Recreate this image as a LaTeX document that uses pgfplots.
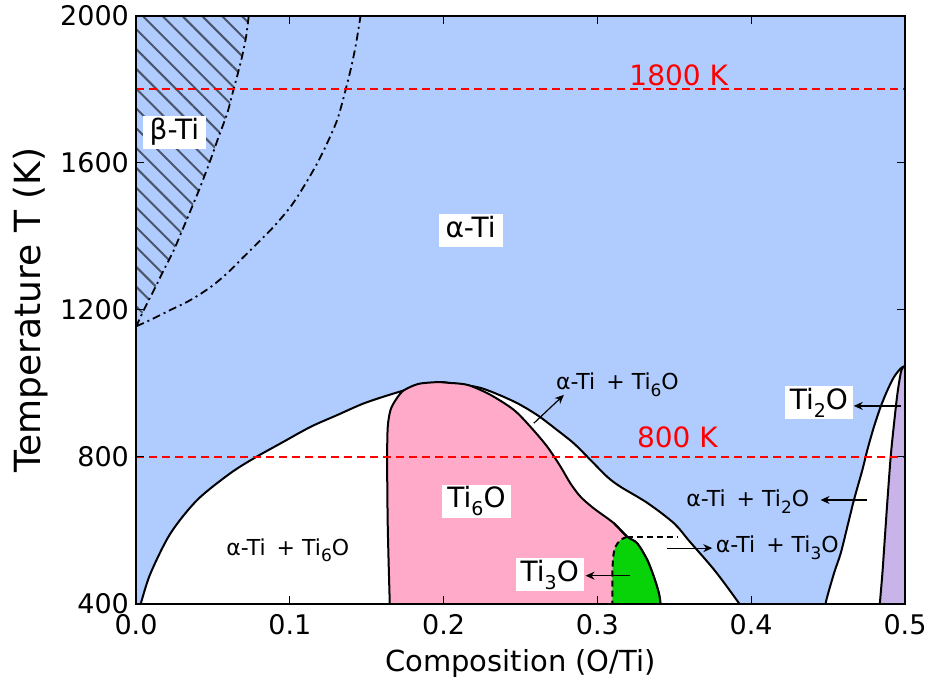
\documentclass[border=0pt]{standalone}
\usepackage{pgfplots}
\pgfplotsset{compat=1.18}
\usepackage{fontspec}
\setmainfont{DejaVu Sans}
\usetikzlibrary{patterns.meta,arrows.meta}
\definecolor{bgblue}{RGB}{176,204,255}
\definecolor{ppink}{RGB}{255,170,200}
\definecolor{pgreen}{RGB}{8,210,8}
\definecolor{ppurple}{RGB}{200,180,232}
\definecolor{hatchc}{RGB}{75,85,105}
\definecolor{lred}{RGB}{255,0,0}
\newcommand\sub[1]{\raisebox{-0.28em}{\fontsize{9.5}{10}\selectfont #1}}
\newcommand\subs[1]{\raisebox{-3.3pt}{\fontsize{8.5}{9}\selectfont #1}}
\newcommand\two[1]{α-Ti\hspace{2pt} + Ti\subs{#1}O}
\begin{document}
\begin{tikzpicture}[
  lab/.style={font=\fontsize{14}{16}\selectfont, inner sep=0pt},
  labs/.style={font=\fontsize{11}{13}\selectfont, inner sep=0pt},
  box/.style={lab, fill=white, text height=10.5pt, text depth=4pt, inner xsep=2.5pt, inner ysep=1pt},
  arr/.style={draw=black, line width=0.6pt, -{Stealth[length=4.5pt,width=4pt]}},
  bnd/.style={draw=black, line width=1pt},
]
\begin{axis}[
  scale only axis, width=384.5pt, height=294pt,
  xmin=0, xmax=0.5, ymin=400, ymax=2000,
  xtick={0,0.1,0.2,0.3,0.4,0.5}, ytick={400,800,1200,1600,2000},
  xticklabel style={/pgf/number format/fixed,/pgf/number format/fixed zerofill,/pgf/number format/precision=1, yshift=-1.5pt},
  yticklabel style={/pgf/number format/1000 sep={}},
  /pgf/number format/assume math mode=true,
  tick label style={font=\fontsize{13.5}{16}\selectfont},
  tick align=inside, major tick length=4pt, tick style={black, line width=0.5pt},
  axis line style={line width=1.2pt},
  axis on top,
  axis background/.style={fill=bgblue},
  xlabel={Composition (O/Ti)}, ylabel={Temperature T (K)},
  xlabel style={font=\fontsize{14.5}{17}\selectfont, at={(axis description cs:0.5,-0.1156)}, anchor=base},
  ylabel style={font=\fontsize{18}{21}\selectfont, at={(axis description cs:-0.1248,0.5)}, anchor=base},
]
% beta-Ti hatched region
\addplot[draw=none, pattern={Lines[angle=-45,distance=7pt,line width=1pt]}, pattern color=hatchc]
 coordinates {(-0.01,1154) (0.0000,1154) (0.0051,1200) (0.0127,1263) (0.0181,1309) (0.0246,1363)
 (0.0311,1427) (0.0365,1481) (0.0419,1536) (0.0484,1608) (0.0538,1672) (0.0593,1735) (0.0628,1790)
 (0.0660,1840) (0.0690,1890) (0.0716,1944) (0.0733,2000) (0.0738,2050) (-0.01,2050)};
% dash-dot boundaries
\addplot[smooth, draw=black, line width=0.9pt, dash pattern=on 4pt off 2pt on 1pt off 2pt]
 coordinates {(0.0000,1154) (0.0051,1200) (0.0127,1263) (0.0181,1309) (0.0246,1363)
 (0.0311,1427) (0.0365,1481) (0.0419,1536) (0.0484,1608) (0.0538,1672) (0.0593,1735) (0.0628,1790)
 (0.0660,1840) (0.0690,1890) (0.0716,1944) (0.0733,2000)};
\addplot[smooth, draw=black, line width=0.9pt, dash pattern=on 4pt off 2pt on 1pt off 2pt]
 coordinates {(0.0003,1156) (0.0094,1173) (0.0224,1200) (0.0354,1227) (0.0484,1262) (0.0593,1300) (0.0701,1345)
 (0.0788,1381) (0.0896,1427) (0.1005,1481) (0.1091,1536) (0.1178,1599) (0.1243,1654) (0.1308,1717)
 (0.1351,1780) (0.1395,1853) (0.1427,1916) (0.1449,1971) (0.1460,2000)};
% alpha-Ti + Ti6O envelope
\addplot[smooth, fill=white, bnd]
 coordinates {(0.0006,370) (0.0030,400) (0.0094,483) (0.0224,592) (0.0398,683) (0.0614,756) (0.0777,799)
 (0.0940,837) (0.1135,882) (0.1308,914) (0.1482,946) (0.1677,973) (0.1871,996) (0.1980,1003)
 (0.2027,1002) (0.2240,988) (0.2457,951) (0.2609,914) (0.2739,873) (0.2847,837) (0.2955,792)
 (0.3064,746) (0.3150,719) (0.3325,675) (0.3497,620) (0.3600,570) (0.3765,490) (0.3924,400) (0.3965,370)};
% Ti6O region
\addplot[smooth, fill=ppink, bnd]
 coordinates {(0.1652,360) (0.1650,400) (0.1637,610) (0.1633,792) (0.1637,882) (0.1655,928) (0.1688,955)
 (0.1731,978) (0.1785,991) (0.1850,1000) (0.1970,1004) (0.2027,1002) (0.2157,996) (0.2305,969)
 (0.2457,928) (0.2565,882) (0.2674,828) (0.2760,774) (0.2825,728) (0.2890,692) (0.2977,660)
 (0.3107,620) (0.3194,583) (0.3259,565) (0.3324,520) (0.3367,474) (0.3400,429) (0.3410,400) (0.3413,360)};
% Ti3O region
\addplot[smooth, fill=pgreen, draw=none]
 coordinates {(0.3097,360) (0.3097,400) (0.3097,474) (0.3103,529) (0.3118,556) (0.3150,574) (0.3194,583)
 (0.3259,565) (0.3324,520) (0.3367,474) (0.3400,429) (0.3410,400) (0.3413,360)};
\addplot[smooth, bnd]
 coordinates {(0.3107,620) (0.3194,583) (0.3259,565) (0.3324,520) (0.3367,474) (0.3400,429) (0.3410,400) (0.3413,360)};
\addplot[smooth, bnd, dash pattern=on 3pt off 2pt]
 coordinates {(0.3194,583) (0.3150,574) (0.3118,556) (0.3103,529) (0.3097,474) (0.3097,400) (0.3097,360)};
\addplot[bnd, dash pattern=on 3pt off 2pt] coordinates {(0.3194,583) (0.3524,583)};
% alpha-Ti + Ti2O and Ti2O
\addplot[smooth, fill=white, bnd]
 coordinates {(0.4478,360) (0.4484,402) (0.4538,483) (0.4582,538) (0.4625,610) (0.4668,683) (0.4723,765)
 (0.4755,819) (0.4798,882) (0.4842,937) (0.4886,982) (0.4929,1018) (0.4972,1041) (0.4995,1045)
 (0.5030,1030) (0.5030,360)};
\addplot[smooth, fill=ppurple, bnd]
 coordinates {(0.4835,360) (0.4837,402) (0.4853,483) (0.4868,574) (0.4886,683) (0.4907,801) (0.4929,892)
 (0.4951,973) (0.4972,1028) (0.4983,1041) (0.4995,1045) (0.5030,1030) (0.5030,360)};
% isotherms
\addplot[draw=lred, line width=1pt, dash pattern=on 4pt off 2.5pt] coordinates {(0,1800) (0.5,1800)};
\addplot[draw=lred, line width=1pt, dash pattern=on 4pt off 2.5pt] coordinates {(0,800) (0.5,800)};
% labels
\node[box, inner xsep=3.5pt] at (axis cs:0.025,1682) {β-Ti};
\node[box, inner xsep=3.5pt] at (axis cs:0.2175,1415) {α-Ti};
\node[lab, text=lred, anchor=base] at (axis cs:0.3529,1812) {1800 K};
\node[lab, text=lred, anchor=base] at (axis cs:0.352,824.5) {800 K};
\node[labs, anchor=base] at (axis cs:0.0987,533) {\two{6}};
\node[labs, anchor=base] at (axis cs:0.313,983) {\two{6}};
\node[box] at (axis cs:0.2214,680) {Ti\sub{6}O};
\node[box] at (axis cs:0.269,479) {Ti\sub{3}O};
\node[labs, anchor=base] at (axis cs:0.3978,665) {\two{2}};
\node[labs, anchor=base] at (axis cs:0.417,539) {\two{3}};
\node[box] at (axis cs:0.444,947) {Ti\sub{2}O};
% arrows
\draw[arr] (axis cs:0.2587,892) -- (axis cs:0.2782,969);
\draw[arr] (axis cs:0.3215,477) -- (axis cs:0.2923,477);
\draw[arr] (axis cs:0.3454,552) -- (axis cs:0.3747,552);
\draw[arr] (axis cs:0.4754,683) -- (axis cs:0.4451,683);
\draw[arr] (axis cs:0.4971,939) -- (axis cs:0.4667,939);
\end{axis}
\pgfresetboundingbox
\path[use as bounding box] (-68pt,-40.5pt) rectangle (396pt,302pt);
\end{tikzpicture}
\end{document}
